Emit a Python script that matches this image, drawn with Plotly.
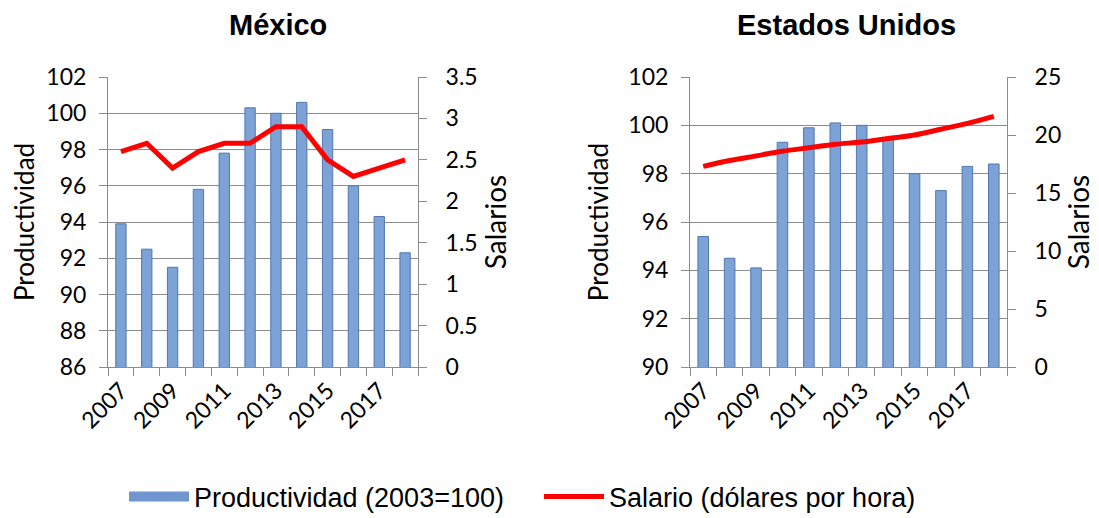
import plotly.graph_objects as go
from plotly.subplots import make_subplots

years = list(range(2007, 2019))
year_labels = ["2007", "2009", "2011", "2013", "2015", "2017"]

mx_prod = [93.9, 92.5, 91.5, 95.8, 97.8, 100.3, 100.0, 100.6, 99.1, 96.0, 94.3, 92.3]
mx_sal = [2.6, 2.7, 2.4, 2.6, 2.7, 2.7, 2.9, 2.9, 2.5, 2.3, 2.4, 2.5]

us_prod = [95.4, 94.5, 94.1, 99.3, 99.9, 100.1, 100.0, 99.4, 98.0, 97.3, 98.3, 98.4]
us_sal = [17.3, 17.8, 18.2, 18.6, 18.9, 19.2, 19.4, 19.7, 20.0, 20.5, 21.0, 21.6]

BAR = "#7da2d6"
BAR_EDGE = "#5277b0"
GRID = "#8c8c8c"
TICK_FONT = dict(family="Lato, Calibri, sans-serif", size=23, color="black")
PROD_FONT = dict(family="Lato, Calibri, sans-serif", size=26, color="black")
SAL_FONT = dict(family="Lato, Calibri, sans-serif", size=28, color="black")
ARIAL = "Liberation Sans, Arial, sans-serif"

# page body has an 8px margin, so shift everything up/left by that much
W, H, OFF = 1099, 518, 8


def px_x(x):
    return (x - OFF) / W


def px_y(y):
    return 1 - (y - OFF) / H


fig = make_subplots(rows=1, cols=2,
                    specs=[[{"secondary_y": True}, {"secondary_y": True}]])

for col, prod, sal, shape in [(1, mx_prod, mx_sal, "linear"),
                              (2, us_prod, us_sal, "spline")]:
    fig.add_trace(go.Bar(x=years, y=prod, width=0.4,
                         marker=dict(color=BAR, line=dict(color=BAR_EDGE, width=1)),
                         name="Productividad (2003=100)", showlegend=False),
                  row=1, col=col, secondary_y=False)
    fig.add_trace(go.Scatter(x=years, y=sal, mode="lines",
                             line=dict(color="#ff0000", width=5, shape=shape),
                             name="Salario (dólares por hora)", showlegend=False),
                  row=1, col=col, secondary_y=True)

# legend entries (wide bar swatch like the original)
fig.add_trace(go.Scatter(x=[None], y=[None], mode="lines",
                         line=dict(color="#6f96cf", width=13),
                         name="Productividad (2003=100)"))
fig.add_trace(go.Scatter(x=[None], y=[None], mode="lines",
                         line=dict(color="#ff0000", width=5),
                         name="Salario (dólares por hora)"))

fig.update_xaxes(
    range=[2006.5, 2018.5], tickvals=[int(y) for y in year_labels], ticktext=year_labels,
    tickangle=-45, ticks="", showgrid=False, zeroline=False, automargin=False,
    showline=True, linecolor=GRID, linewidth=1, tickfont=TICK_FONT,
    minor=dict(tickvals=[y - 0.5 for y in years] + [2018.5], ticks="outside",
               ticklen=8, tickcolor=GRID, showgrid=False),
)
fig.update_xaxes(domain=[px_x(108), px_x(418)], row=1, col=1)
fig.update_xaxes(domain=[px_x(690), px_x(1007)], row=1, col=2)

left_common = dict(showgrid=True, gridcolor=GRID, gridwidth=1, zeroline=False,
                   showline=True, linecolor=GRID, ticks="outside", ticklen=8,
                   tickcolor=GRID, tickfont=TICK_FONT, automargin=False,
                   ticklabelstandoff=8,
                   title=dict(text="Productividad", font=PROD_FONT, standoff=12))
right_common = dict(showgrid=False, zeroline=False, showline=True, linecolor=GRID,
                    ticks="outside", ticklen=8, tickcolor=GRID, tickfont=TICK_FONT,
                    automargin=False, ticklabelstandoff=14,
                    title=dict(text="Salarios", font=SAL_FONT, standoff=8))

fig.update_yaxes(range=[86, 102], dtick=2, **left_common, row=1, col=1, secondary_y=False)
fig.update_yaxes(range=[0, 3.5], dtick=0.5, **right_common, row=1, col=1, secondary_y=True)
fig.update_yaxes(range=[90, 102], dtick=2, **left_common, row=1, col=2, secondary_y=False)
fig.update_yaxes(range=[0, 25], dtick=5, **right_common, row=1, col=2, secondary_y=True)
fig.update_yaxes(domain=[px_y(367), px_y(77)])

title_font = dict(family=ARIAL, size=29, color="black")
fig.add_annotation(text="<b>México</b>", x=px_x(278), y=1, xref="paper", yref="paper",
                   xanchor="center", yanchor="top", borderpad=0, showarrow=False,
                   font=title_font)
fig.add_annotation(text="<b>Estados Unidos</b>", x=px_x(846), y=1, xref="paper",
                   yref="paper", xanchor="center", yanchor="top", borderpad=0,
                   showarrow=False, font=title_font)

fig.update_layout(
    width=W, height=H,
    margin=dict(l=0, r=0, t=0, b=0),
    plot_bgcolor="white", paper_bgcolor="white",
    legend=dict(orientation="h", x=px_x(124), xanchor="left", y=px_y(497), yanchor="middle",
                font=dict(family=ARIAL, size=27, color="black"),
                itemwidth=60, entrywidth=340, tracegroupgap=0),
    showlegend=True,
)

fig.write_html("out.html")
